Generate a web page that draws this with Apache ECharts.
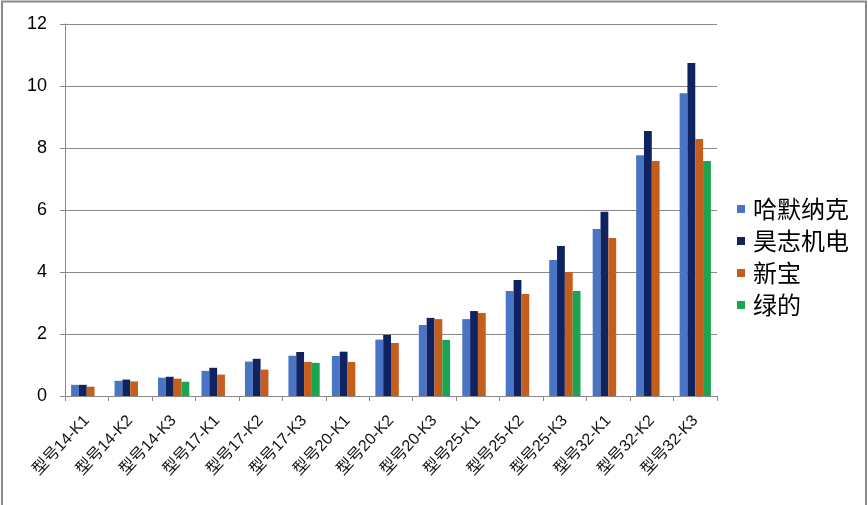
<!DOCTYPE html>
<html>
<head>
<meta charset="utf-8">
<script src="https://cdn.jsdelivr.net/npm/echarts@6/dist/echarts.min.js"></script>
<style>
html,body{margin:0;padding:0;background:#fff;}
#c{width:868px;height:505px;}
</style>
</head>
<body>
<div id="c"></div>
<script>
var categories = ['型号14-K1','型号14-K2','型号14-K3','型号17-K1','型号17-K2','型号17-K3','型号20-K1','型号20-K2','型号20-K3','型号25-K1','型号25-K2','型号25-K3','型号32-K1','型号32-K2','型号32-K3'];
var seriesNames = ['哈默纳克','昊志机电','新宝','绿的'];
var harmonic = [0.36,0.49,0.59,0.81,1.11,1.30,1.29,1.82,2.29,2.48,3.39,4.39,5.39,7.77,9.77];
var haozhi   = [0.36,0.53,0.62,0.91,1.20,1.42,1.43,1.97,2.52,2.74,3.74,4.84,5.94,8.55,10.74];
var xinbao   = [0.30,0.47,0.56,0.69,0.85,1.10,1.10,1.71,2.48,2.68,3.29,4.00,5.10,7.58,8.29];
var lvde     = [null,null,0.46,null,null,1.07,null,null,1.81,null,null,3.39,null,null,7.58];
var yTicks = [0,2,4,6,8,10,12];
var colors = ['#4A74C4','#0F2360','#C55E1D','#1CA551'];

var chart = echarts.init(document.getElementById('c'));
var allData = [harmonic, haozhi, xinbao, lvde];
var series = seriesNames.map(function(n,i){
  return {
    name: n, type: 'bar', data: allData[i],
    barGap: '0%', barCategoryGap: '28%',
    itemStyle: {color: colors[i]}
  };
});
chart.setOption({
  animation: false,
  color: colors,
  grid: {left: 65, right: 151, top: 24, bottom: 109, containLabel: false},
  legend: {
    orient: 'vertical', left: 732, top: 192,
    itemWidth: 8, itemHeight: 8, icon: 'rect', itemGap: 8,
    textStyle: {fontSize: 24, color: '#000', lineHeight: 24, padding: [0,0,0,3],
      fontFamily: '"Noto Sans CJK SC", sans-serif'},
    data: seriesNames
  },
  xAxis: {
    type: 'category', data: categories,
    axisLine: {lineStyle: {color: '#888', width: 1}},
    axisTick: {show: true, length: 5, lineStyle: {color: '#888'}, alignWithLabel: false},
    axisLabel: {rotate: 47, interval: 0, fontSize: 16, color: '#111', margin: 22,
      fontFamily: '"Liberation Sans", "Noto Sans CJK SC", sans-serif'}
  },
  yAxis: {
    type: 'value', min: 0, max: 12, interval: 2,
    axisLine: {show: true, lineStyle: {color: '#888'}},
    axisTick: {show: true, length: 5, lineStyle: {color: '#888'}},
    splitLine: {show: true, lineStyle: {color: '#888', width: 1}},
    axisLabel: {fontSize: 18, color: '#000', margin: 18,
      fontFamily: '"Liberation Sans", sans-serif',
      formatter: function(v){ return yTicks.indexOf(v) >= 0 ? String(v) : ''; }}
  },
  graphic: [{
    type: 'rect', silent: true,
    shape: {x: 2, y: 1.5, width: 864, height: 520},
    style: {fill: 'none', stroke: '#888', lineWidth: 2}
  }],
  series: series
});
</script>
</body>
</html>
